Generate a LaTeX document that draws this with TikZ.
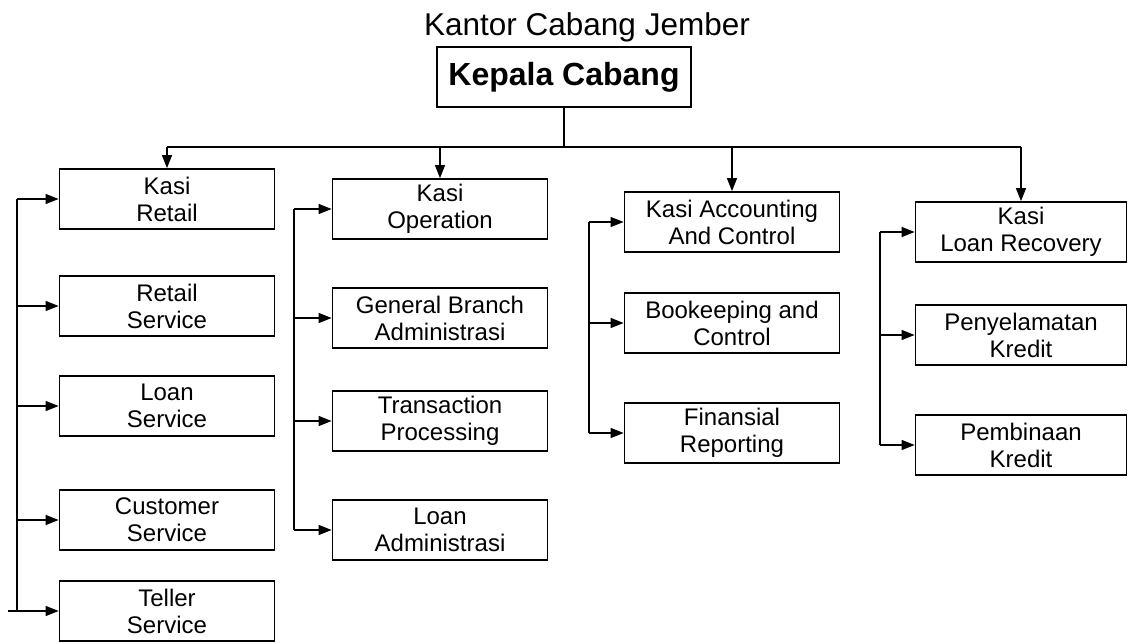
\documentclass[tikz,border=0pt]{standalone}
\usepackage{fontspec}
\setmainfont{Liberation Sans}
\usetikzlibrary{arrows.meta}

\begin{document}
\begin{tikzpicture}[x=1pt,y=-1pt]
		\tikzstyle{unit}=[draw=black, line width=1.8pt, minimum width=215pt, minimum height=60pt, inner sep=0pt, align=center, font=\fontsize{24}{27}\selectfont]
		\tikzstyle{link}=[black, line width=1.3pt]
		\tikzstyle{arr}=[link, -{Triangle[length=13pt,width=10pt]}]
		\useasboundingbox (0,0) rectangle (1133,644);
		\draw (587,36) node [anchor=base, font=\fontsize{31.5}{36}\selectfont] (title) {Kantor Cabang Jember};
		\draw (564,77) node [unit, minimum width=254pt, minimum height=60pt, font=\fontsize{32}{36}\selectfont\bfseries] (kepala) {Kepala Cabang};
		\draw (167,199) node [unit] (kretail) {Kasi\\Retail};
		\draw (167,306) node [unit] (rserv) {Retail\\Service};
		\draw (167,406) node [unit] (lserv) {Loan\\Service};
		\draw (167,520) node [unit] (cserv) {Customer\\Service};
		\draw (167,611) node [unit] (teller) {Teller\\Service};
		\draw (440,209) node [unit] (kops) {Kasi\\Operation};
		\draw (440,318) node [unit] (gba) {General Branch\\Administrasi};
		\draw (440,421) node [unit] (tproc) {Transaction\\Processing};
		\draw (440,530) node [unit] (ladm) {Loan\\Administrasi};
		\draw (732,222) node [unit] (kacc) {Kasi Accounting\\And Control};
		\draw (732,323) node [unit] (book) {Bookeeping and\\Control};
		\draw (732,433) node [unit] (frep) {Finansial\\Reporting};
		\draw (1021,232) node [unit, minimum width=211pt] (kloan) {Kasi\\Loan Recovery};
		\draw (1021,335) node [unit, minimum width=211pt] (pkred) {Penyelamatan\\Kredit};
		\draw (1021,445) node [unit, minimum width=211pt] (bkred) {Pembinaan\\Kredit};
		\coordinate (bar) at (564,147);
		\coordinate (c1) at (17,0);
		\coordinate (stub) at (8,0);
		\coordinate (c2) at (294,0);
		\coordinate (c3) at (589,0);
		\coordinate (c4) at (880,0);
		\draw [link] (kepala.south) -- (kepala.south |- bar);
		\draw [link] (kretail.north |- bar) -- (kloan.north |- bar);
		\foreach \n in {kretail,kops,kacc,kloan}
			\draw [arr] (\n.north |- bar) -- (\n.north);
		\draw [link] (c1 |- kretail) -- (c1 |- teller);
		\foreach \n in {kretail,rserv,lserv,cserv}
			\draw [arr] (c1 |- \n) -- (\n.west);
		\draw [arr] (stub |- teller) -- (teller.west);
		\draw [link] (c2 |- kops) -- (c2 |- ladm);
		\foreach \n in {kops,gba,tproc,ladm}
			\draw [arr] (c2 |- \n) -- (\n.west);
		\draw [link] (c3 |- kacc) -- (c3 |- frep);
		\foreach \n in {kacc,book,frep}
			\draw [arr] (c3 |- \n) -- (\n.west);
		\draw [link] (c4 |- kloan) -- (c4 |- bkred);
		\foreach \n in {kloan,pkred,bkred}
			\draw [arr] (c4 |- \n) -- (\n.west);
	\end{tikzpicture}
\end{document}
